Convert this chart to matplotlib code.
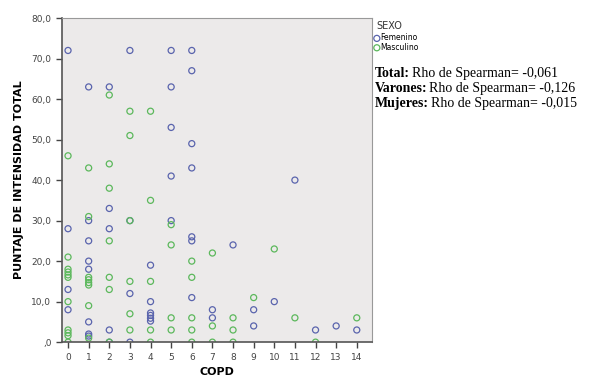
import matplotlib.pyplot as plt

# COPD score vs total intensity score, split by sex
fem_x = [0, 0, 0, 0,
         1, 1, 1, 1, 1, 1, 1, 1,
         2, 2, 2, 2, 2,
         3, 3, 3, 3,
         4, 4, 4, 4, 4, 4,
         5, 5, 5, 5, 5,
         6, 6, 6, 6, 6, 6, 6,
         7, 7, 8, 9, 9, 10, 11, 12, 13, 14]
fem_y = [72, 28, 13, 8,
         63, 30, 25, 20, 18, 5, 2, 1.5,
         63, 33, 28, 3, 0,
         72, 30, 12, 0,
         19, 10, 7.2, 6.6, 5.9, 5.2,
         72, 63, 53, 41, 30,
         72, 67, 49, 43, 26, 25, 11,
         8, 6, 24, 8, 4, 10, 40, 3, 4, 3]

masc_x = [0, 0, 0, 0, 0, 0, 0, 0, 0, 0, 0,
          1, 1, 1, 1, 1, 1, 1, 1,
          2, 2, 2, 2, 2, 2, 2,
          3, 3, 3, 3, 3, 3,
          4, 4, 4, 4, 4,
          5, 5, 5, 5,
          6, 6, 6, 6, 6,
          7, 7, 7,
          8, 8, 8,
          9, 10, 11, 12, 14]
masc_y = [46, 21, 18, 17.3, 16.6, 16, 10, 3, 2.3, 1.6, 0,
          43, 31, 16, 15.4, 14.7, 14.1, 9, 1,
          61, 44, 38, 25, 16, 13, 0,
          57, 51, 30, 15, 7, 3,
          57, 35, 15, 3, 0,
          29, 24, 6, 3,
          20, 16, 6, 3, 0,
          22, 4, 0,
          6, 3, 0,
          11, 23, 6, 0, 6]

x_ticks = list(range(15))
y_ticks = [0, 10, 20, 30, 40, 50, 60, 70, 80]
y_labels = [",0", "10,0", "20,0", "30,0", "40,0", "50,0", "60,0", "70,0", "80,0"]

fem_color = '#5a64ad'
masc_color = '#5cb85c'

fig = plt.figure(figsize=(5.89, 3.84), dpi=100)
ax = fig.add_axes([0.105, 0.109, 0.527, 0.844])
ax.set_facecolor('#eceaea')

ax.scatter(fem_x, fem_y, s=19, facecolors='none', edgecolors=fem_color,
           linewidths=0.9, label='Femenino')
ax.scatter(masc_x, masc_y, s=19, facecolors='none', edgecolors=masc_color,
           linewidths=0.9, label='Masculino')

ax.set_xlim(-0.3, 14.75)
ax.set_ylim(0, 80)
ax.set_xticks(x_ticks)
ax.set_yticks(y_ticks)
ax.set_yticklabels(y_labels)
ax.tick_params(labelsize=6.5, colors='#444444', length=4, width=1)

for side in ['left', 'bottom']:
    ax.spines[side].set_color('#555555')
    ax.spines[side].set_linewidth(1.2)
for side in ['top', 'right']:
    ax.spines[side].set_color('#999999')
    ax.spines[side].set_linewidth(0.8)

ax.set_xlabel('COPD', fontsize=8, fontweight='bold', labelpad=4)
ax.set_ylabel('PUNTAJE DE INTENSIDAD TOTAL', fontsize=8, fontweight='bold', labelpad=5)

fig.text(0.639, 0.925, 'SEXO', fontsize=7, color='#333333')
leg = ax.legend(loc='upper left', bbox_to_anchor=(1.0, 0.955), frameon=False,
                fontsize=5.5, handletextpad=0.0, borderaxespad=0.0,
                labelspacing=0.05, handlelength=1.0, borderpad=0.1)

stats = [("Total:", "Rho de Spearman= -0,061"),
         ("Varones:", "Rho de Spearman= -0,126"),
         ("Mujeres:", "Rho de Spearman= -0,015")]
y0 = 0.808
for i, (head, rest) in enumerate(stats):
    t = fig.text(0.636, y0 - i * 0.039, head, fontsize=10, fontweight='bold',
                 family='Liberation Serif', va='center')
    fig.canvas.draw()
    bb = t.get_window_extent()
    fig.text((bb.x1 + 2) / fig.bbox.width, y0 - i * 0.039, rest, fontsize=10,
             family='Liberation Serif', va='center')

fig.savefig('out.png', dpi=100)
